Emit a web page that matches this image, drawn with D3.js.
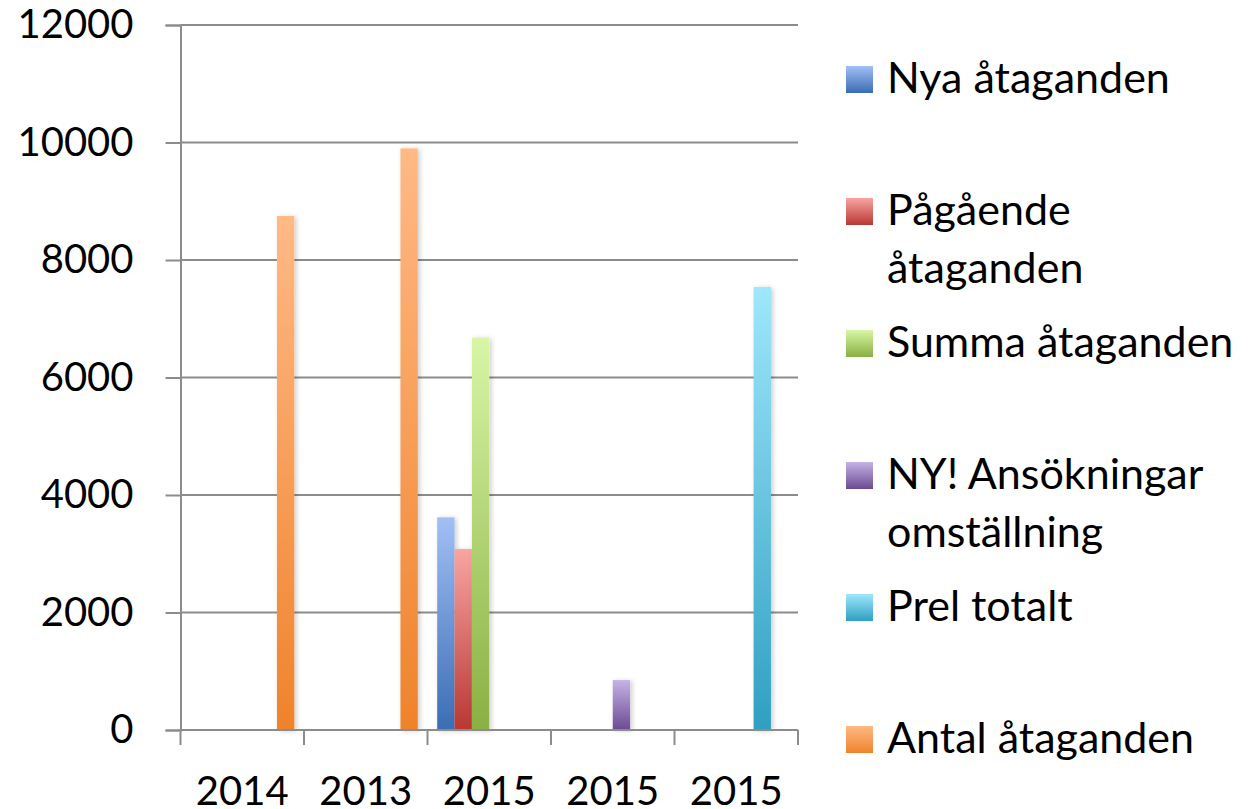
<!DOCTYPE html>
<html>
<head>
<meta charset="utf-8">
<script src="https://cdn.jsdelivr.net/npm/d3@7"></script>
<style>
  body { margin: 0; background: #fff; }
  svg text { font-family: Lato, "Open Sans", sans-serif; fill: #000; }
</style>
</head>
<body>
<svg id="chart" width="1254" height="809"></svg>
<script>
// category labels (x axis), in the order shown
var categories = ["2014", "2013", "2015", "2015", "2015"];

// one value per category, null where the series has no bar
var nyaAtaganden      = [null, null, 3620, null, null];
var pagaendeAtaganden = [null, null, 3080, null, null];
var summaAtaganden    = [null, null, 6680, null, null];
var nyAnsokningar     = [null, null, null, 850, null];
var prelTotalt        = [null, null, null, null, 7540];
var antalAtaganden    = [8750, 9900, null, null, null];

var seriesNames = ["Nya åtaganden", "Pågående åtaganden", "Summa åtaganden",
                   "NY! Ansökningar omställning", "Prel totalt", "Antal åtaganden"];
var legendLines = [["Nya åtaganden"], ["Pågående", "åtaganden"], ["Summa åtaganden"],
                   ["NY! Ansökningar", "omställning"], ["Prel totalt"], ["Antal åtaganden"]];
var seriesValues = [nyaAtaganden, pagaendeAtaganden, summaAtaganden,
                    nyAnsokningar, prelTotalt, antalAtaganden];
var topColors    = ["#a2bff5", "#f8a5a2", "#d8f6a5", "#c5b3e5", "#9fe7fc", "#ffb985"];
var bottomColors = ["#3a6db4", "#b93733", "#8ab043", "#6b4a93", "#2f9fc1", "#ef832b"];

var yTicks = [0, 2000, 4000, 6000, 8000, 10000, 12000];

var svg = d3.select("#chart");
var defs = svg.append("defs");

seriesNames.forEach(function(name, i) {
    var g = defs.append("linearGradient")
        .attr("id", "grad" + i)
        .attr("x1", "0").attr("y1", "0")
        .attr("x2", "0").attr("y2", "1");
    g.append("stop").attr("offset", "0%").attr("stop-color", topColors[i]);
    g.append("stop").attr("offset", "100%").attr("stop-color", bottomColors[i]);
});

var shadow = defs.append("filter")
    .attr("id", "barShadow")
    .attr("x", "-30%").attr("y", "-5%")
    .attr("width", "160%").attr("height", "110%");
shadow.append("feDropShadow")
    .attr("dx", 2).attr("dy", 1)
    .attr("stdDeviation", 2.5)
    .attr("flood-color", "#000")
    .attr("flood-opacity", 0.2);

var plotLeft = 180.5, plotRight = 798, plotTop = 25, plotBottom = 730;

var y = d3.scaleLinear().domain([0, 12000]).range([plotBottom, plotTop]);
var x0 = d3.scaleBand().domain(d3.range(categories.length)).range([plotLeft, plotRight]).padding(0);
var x1 = d3.scaleBand().domain(d3.range(seriesNames.length))
    .range([9.7, x0.bandwidth() - 9.7]).padding(0);

// gridlines
svg.append("g")
    .selectAll("line")
    .data(yTicks)
    .enter().append("line")
    .attr("x1", plotLeft)
    .attr("x2", plotRight)
    .attr("y1", d => y(d))
    .attr("y2", d => y(d))
    .attr("stroke", "#8c8c8c")
    .attr("stroke-width", 2);

// bars
var bars = [];
seriesValues.forEach(function(vals, s) {
    vals.forEach(function(v, c) {
        if (v != null) bars.push({ s: s, c: c, v: v });
    });
});

svg.append("g")
    .selectAll("rect")
    .data(bars)
    .enter().append("rect")
    .attr("x", d => x0(d.c) + x1(d.s))
    .attr("y", d => y(d.v))
    .attr("width", x1.bandwidth())
    .attr("height", d => y(0) - y(d.v))
    .attr("filter", "url(#barShadow)")
    .attr("fill", d => "url(#grad" + d.s + ")");

// y axis
var yAxis = svg.append("g")
    .attr("transform", "translate(" + plotLeft + ",0)")
    .call(d3.axisLeft(y).tickValues(yTicks).tickFormat(d3.format("d")).tickSize(15).tickPadding(32));
yAxis.select(".domain").attr("stroke", "#8c8c8c").attr("stroke-width", 2);
yAxis.selectAll(".tick line").attr("stroke", "#8c8c8c").attr("stroke-width", 2);
yAxis.selectAll(".tick text")
    .attr("font-size", 40)
    .attr("font-family", "Lato, 'Open Sans', sans-serif")
    .attr("fill", "#000");

// x axis line + tick marks at category boundaries
var xBounds = d3.range(categories.length + 1).map(i => plotLeft + i * x0.bandwidth());
svg.append("line")
    .attr("x1", plotLeft).attr("x2", plotRight)
    .attr("y1", plotBottom).attr("y2", plotBottom)
    .attr("stroke", "#8c8c8c").attr("stroke-width", 2);
svg.append("g")
    .selectAll("line")
    .data(xBounds)
    .enter().append("line")
    .attr("x1", d => d).attr("x2", d => d)
    .attr("y1", plotBottom).attr("y2", plotBottom + 15)
    .attr("stroke", "#8c8c8c").attr("stroke-width", 2);

svg.append("g")
    .selectAll("text")
    .data(categories)
    .enter().append("text")
    .attr("x", (d, i) => x0(i) + x0.bandwidth() / 2)
    .attr("y", 805)
    .attr("text-anchor", "middle")
    .attr("font-size", 40)
    .text(d => d);

// legend
var legend = svg.append("g");
var entry = legend.selectAll("g")
    .data(legendLines)
    .enter().append("g")
    .attr("transform", (d, i) => "translate(846," + (66 + i * 132) + ")");

entry.append("rect")
    .attr("width", 27)
    .attr("height", 27)
    .attr("fill", (d, i) => "url(#grad" + i + ")");

entry.append("text")
    .attr("x", 41)
    .attr("y", 27)
    .attr("font-size", 43)
    .selectAll("tspan")
    .data(d => d)
    .enter().append("tspan")
    .attr("x", 41)
    .attr("dy", (d, j) => j === 0 ? 0 : 58)
    .text(d => d);
</script>
</body>
</html>
